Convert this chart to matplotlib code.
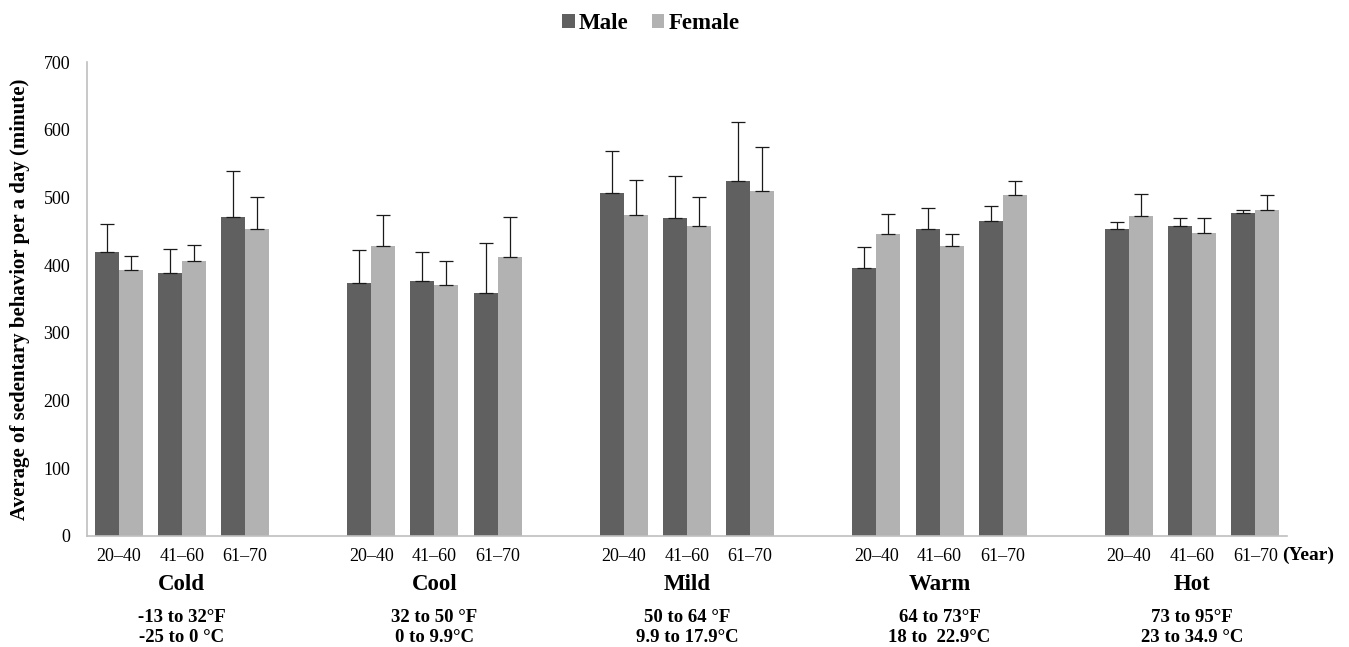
import matplotlib
matplotlib.use("Agg")
import matplotlib.pyplot as plt
import matplotlib.transforms as mtransforms
import numpy as np

plt.rcParams['font.family'] = ['Liberation Serif', 'DejaVu Serif']

climates = ["Cold", "Cool", "Mild", "Warm", "Hot"]
temp_f = ["-13 to 32°F", "32 to 50 °F", "50 to 64 °F", "64 to 73°F", "73 to 95°F"]
temp_c = ["-25 to 0 °C", "0 to 9.9°C", "9.9 to 17.9°C", "18 to  22.9°C", "23 to 34.9 °C"]
ages = ["20–40", "41–60", "61–70"]

male = [419, 388, 471, 374, 377, 359, 506, 470, 525, 396, 453, 465, 453, 458, 477]
male_err = [42, 36, 68, 48, 42, 73, 63, 62, 87, 31, 31, 23, 10, 11, 4]
female = [392, 406, 453, 428, 370, 412, 474, 458, 510, 446, 428, 504, 472, 448, 481]
female_err = [22, 24, 47, 46, 36, 59, 52, 42, 65, 30, 18, 20, 33, 22, 22]

c_male = "#606060"
c_female = "#b2b2b2"

fig = plt.figure(figsize=(13.49, 6.47), dpi=100)
ax = fig.add_axes([0.0645, 0.172, 0.8895, 0.732])

pos = np.array([4 * i + j for i in range(len(climates)) for j in range(len(ages))], dtype=float)
w = 0.38

ax.bar(pos - w / 2, male, w, color=c_male, label="Male", zorder=2)
ax.bar(pos + w / 2, female, w, color=c_female, label="Female", zorder=2)
ekw = dict(ecolor="#1a1a1a", elinewidth=0.9, capsize=5, capthick=0.9, fmt="none", zorder=3)
ax.errorbar(pos - w / 2, male, yerr=[np.zeros(len(male)), male_err], **ekw)
ax.errorbar(pos + w / 2, female, yerr=[np.zeros(len(female)), female_err], **ekw)

ax.set_xlim(-0.5, 4 * len(climates) - 1.5)
ax.set_ylim(0, 700)
ax.set_yticks(np.arange(0, 701, 100))
ax.set_xticks(pos)
ax.set_xticklabels(ages * len(climates))
ax.tick_params(axis='y', length=0, pad=12, labelsize=13)
ax.tick_params(axis='x', length=0, pad=9, labelsize=13)

for s in ["top", "right"]:
    ax.spines[s].set_visible(False)
for s in ["left", "bottom"]:
    ax.spines[s].set_color("#bfbfbf")
    ax.spines[s].set_linewidth(1.2)

ax.set_ylabel("Average of sedentary behavior per a day (minute)", fontsize=15,
              fontweight="bold", labelpad=10)

trans = mtransforms.blended_transform_factory(ax.transData, fig.transFigure)
for i, name in enumerate(climates):
    xc = 4 * i + 1
    ax.text(xc, 1 - 584 / 647, name, transform=trans, ha="center", va="center",
            fontsize=16.5, fontweight="bold")
    ax.text(xc, 1 - 617 / 647, temp_f[i], transform=trans, ha="center", va="center",
            fontsize=13.5, fontweight="bold")
    ax.text(xc, 1 - 637 / 647, temp_c[i], transform=trans, ha="center", va="center",
            fontsize=13.5, fontweight="bold")

fig.text(1282 / 1349, 1 - 555 / 647, "(Year)", ha="left", va="center",
         fontsize=14, fontweight="bold")

leg = fig.legend(loc="center", bbox_to_anchor=(0.4826, 0.964), ncol=2, frameon=False,
                 prop={"size": 16.5, "weight": "bold"}, handlelength=0.55, handleheight=0.55,
                 handletextpad=0.2, columnspacing=1.0)

fig.savefig("out.png", dpi=100)
